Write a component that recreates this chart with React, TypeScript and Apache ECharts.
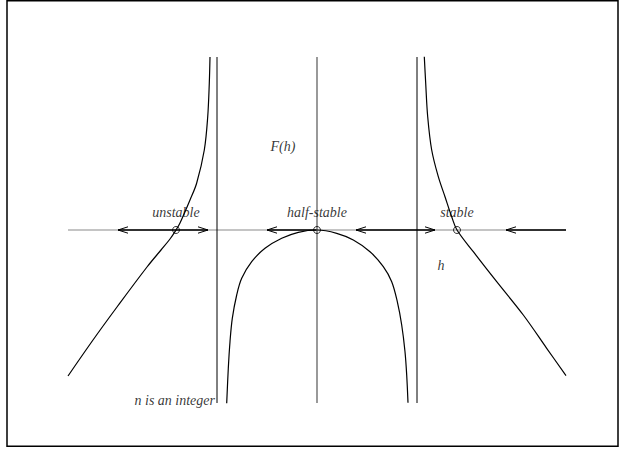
import React, { useEffect, useRef } from "react";
import * as echarts from "echarts";

// Curve branches as [h, F(h)]
const leftBranch: [number, number][] = [
  [-1.07, 1.73], [-1.077, 1.47], [-1.093, 1.13], [-1.127, 0.8], [-1.203, 0.47],
  [-1.27, 0.3], [-1.37, 0.07], [-1.41, 0], [-1.47, -0.09], [-1.56, -0.2],
  [-1.7, -0.37], [-2.0, -0.77], [-2.24, -1.1], [-2.49, -1.46],
];
const middleBranch: [number, number][] = [
  [-0.903, -1.733], [-0.887, -1.383], [-0.87, -1.117], [-0.847, -0.883], [-0.803, -0.65],
  [-0.753, -0.483], [-0.653, -0.317], [-0.52, -0.183], [-0.353, -0.083], [-0.187, -0.023],
  [0, 0],
  [0.197, -0.033], [0.363, -0.1], [0.53, -0.217], [0.663, -0.367], [0.747, -0.517],
  [0.803, -0.717], [0.847, -0.95], [0.88, -1.217], [0.897, -1.45], [0.91, -1.727],
];
const rightBranch: [number, number][] = [
  [1.073, 1.733], [1.087, 1.467], [1.107, 1.133], [1.147, 0.8], [1.213, 0.533],
  [1.28, 0.333], [1.347, 0.133], [1.4, 0], [1.563, -0.217], [1.797, -0.517],
  [2.063, -0.85], [2.297, -1.183], [2.49, -1.457],
];

const asymptotes = [-1.0, 1.0];
const centerLine = 0;
const verticalRange = [-1.73, 1.73];
const axisRange = [-2.49, 2.49];

const fixedPoints = [-1.41, 0, 1.4];
const fixedLabels = ["unstable", "half-stable", "stable"];
const fixedLabelHeight = 0.18;

const arrowPositions = [-1.99, -1.09, -0.5, 0.39, 1.18, 1.89];
const arrowDirections = [-1, 1, -1, -1, 1, -1];
const flowSegments: [number, number][] = [[-1.99, -1.09], [-0.5, 0], [0.39, 1.18], [1.89, 2.49]];

const annotationTexts = ["F(h)", "h", "n is an integer"];
const annotationPositions: [number, number][] = [[-0.34, 0.84], [1.24, -0.35], [-1.02, -1.70]];
const annotationAlign = ["center", "center", "right"];

const FONT = "Liberation Serif";

export default function App() {
  const ref = useRef<HTMLDivElement>(null);
  useEffect(() => {
    if (!ref.current) return;
    const chart = echarts.init(ref.current, null, { renderer: "svg" });
    const curveStyle = { color: "#000", width: 1.2 };
    const labelStyle = {
      show: true, position: "inside", formatter: "{b}",
      fontFamily: FONT, fontStyle: "italic", fontWeight: "normal", fontSize: 14, color: "#000",
      textBorderWidth: 0, textBorderColor: "transparent",
    };
    const series: any[] = [];
    // gray h axis
    series.push({
      type: "line", data: [[axisRange[0], 0], [axisRange[1], 0]], symbol: "none",
      lineStyle: { color: "#8a8a8a", width: 1.2 }, z: 1, silent: true,
    });
    // dark flow segments
    flowSegments.forEach((s) => {
      series.push({
        type: "line", data: [[s[0], 0], [s[1], 0]], symbol: "none",
        lineStyle: { color: "#000", width: 1.6 }, z: 2, silent: true,
      });
    });
    // vertical lines
    asymptotes.forEach((a) => {
      series.push({
        type: "line", data: [[a, verticalRange[0]], [a, verticalRange[1]]], symbol: "none",
        lineStyle: { color: "#000", width: 1 }, z: 3, silent: true,
      });
    });
    series.push({
      type: "line", data: [[centerLine, verticalRange[0]], [centerLine, verticalRange[1]]], symbol: "none",
      lineStyle: { color: "#808080", width: 1.6 }, z: 3, silent: true,
    });
    // curves
    [leftBranch, middleBranch, rightBranch].forEach((b) => {
      series.push({
        type: "line", data: b, symbol: "none", smooth: 0.35,
        lineStyle: curveStyle, z: 4, silent: true,
      });
    });
    // arrowheads
    series.push({
      type: "custom",
      data: arrowPositions.map((p, i) => [p, arrowDirections[i]]),
      renderItem: (_params: any, api: any) => {
        const pt = api.coord([api.value(0), 0]);
        const d = api.value(1);
        return {
          type: "polyline",
          shape: { points: [[pt[0] - d * 10, pt[1] - 3.2], [pt[0], pt[1]], [pt[0] - d * 10, pt[1] + 3.2]] },
          style: { stroke: "#000", fill: "none", lineWidth: 1 },
        };
      },
      z: 5, silent: true,
    });
    // fixed points
    series.push({
      type: "scatter",
      data: fixedPoints.map((p) => [p, 0]),
      symbol: "circle", symbolSize: 7,
      itemStyle: { color: "rgba(0,0,0,0)", borderColor: "#000", borderWidth: 1 },
      z: 6, silent: true,
    });
    // fixed point labels
    series.push({
      type: "scatter",
      data: fixedPoints.map((p, i) => ({ value: [p, fixedLabelHeight], name: fixedLabels[i] })),
      symbolSize: 0,
      itemStyle: { color: "transparent" },
      label: labelStyle,
      z: 7, silent: true,
    });
    // annotations
    series.push({
      type: "scatter",
      data: annotationPositions.map((p, i) => ({
        value: p, name: annotationTexts[i],
        label: { align: annotationAlign[i] },
      })),
      symbolSize: 0,
      itemStyle: { color: "transparent" },
      label: labelStyle,
      z: 7, silent: true,
    });

    chart.setOption({
      animation: false,
      backgroundColor: "#fff",
      grid: { left: 0, right: 0, top: 0, bottom: 0 },
      xAxis: { type: "value", min: -3.17, max: 3.02, show: false },
      yAxis: { type: "value", min: -2.21, max: 2.3, show: false },
      graphic: [
        {
          type: "rect",
          shape: { x: 7, y: 0.75, width: 611, height: 445.5 },
          style: { fill: "none", stroke: "#000", lineWidth: 1.5 },
          z: 10,
        },
      ],
      series,
    });
    return () => chart.dispose();
  }, []);
  return (
    <div
      ref={ref}
      style={{ position: "fixed", left: 0, top: 0, width: 619, height: 451, background: "#fff" }}
    />
  );
}
